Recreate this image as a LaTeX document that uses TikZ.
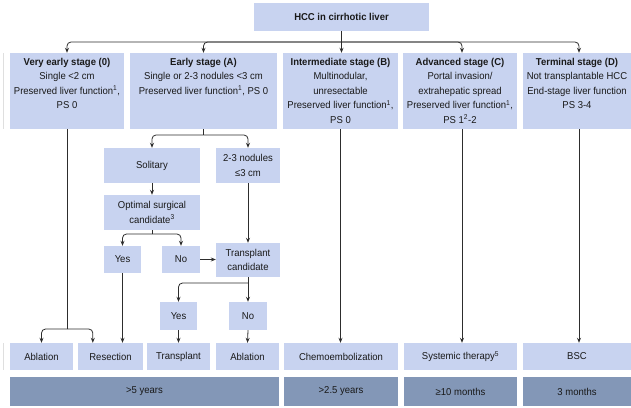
\documentclass[tikz,border=0pt]{standalone}
\usepackage{fontspec}
\setmainfont{Liberation Sans}[FakeStretch=0.95]
\usetikzlibrary{arrows.meta}
\definecolor{boxc}{RGB}{200,211,240}
\definecolor{survc}{RGB}{131,151,183}
\definecolor{linec}{RGB}{45,45,45}
\definecolor{txtc}{RGB}{25,25,25}
\newcommand\fs{\fontsize{10}{14.5}\selectfont}
\tikzset{
  box/.style={fill=boxc, draw=none, inner sep=0pt, align=center, font=\fs, text=txtc},
  surv/.style={fill=survc, draw=none, inner sep=0pt, align=center, font=\fs, text=txtc, minimum height=29pt},
  arr/.style={draw=linec, line width=0.8pt, -{Stealth[length=5pt,width=4pt]}},
  ln/.style={draw=linec, line width=0.8pt},
}
\newcommand\stg[2]{\parbox[c][70pt][t]{#1pt}{\vspace*{2pt}\centering #2}}
\begin{document}
\begin{tikzpicture}[x=1pt,y=-1pt]
\useasboundingbox (0,0) rectangle (631,407);
% faint left edge lines
\draw[gray!25, line width=0.6pt] (3,53) -- (3,129);
\draw[gray!25, line width=0.6pt] (3,343) -- (3,370);
% top
\node[box, minimum width=175pt, minimum height=28pt, font=\fs\bfseries] (top) at (341.5,17) {HCC in cirrhotic liver};
% stages
\node[box, minimum width=114pt, minimum height=76pt] (s0) at (67,91) {\stg{114}{\textbf{Very early stage (0)}\\ Single <2 cm\\ Preserved liver function\textsuperscript{1},\\ PS 0}};
\node[box, minimum width=147pt, minimum height=76pt] (sA) at (203.5,91) {\stg{147}{\textbf{Early stage (A)}\\ Single or 2-3 nodules <3 cm\\ Preserved liver function\textsuperscript{1}, PS 0}};
\node[box, minimum width=115pt, minimum height=76pt] (sB) at (340.5,91) {\stg{115}{\textbf{Intermediate stage (B)}\\ Multinodular,\\ unresectable\\ Preserved liver function\textsuperscript{1},\\ PS 0}};
\node[box, minimum width=114pt, minimum height=76pt] (sC) at (460,91) {\stg{114}{\textbf{Advanced stage (C)}\\ Portal invasion/\\ extrahepatic spread\\ Preserved liver function\textsuperscript{1},\\ PS 1\textsuperscript{2}-2}};
\node[box, minimum width=108pt, minimum height=76pt] (sD) at (577,91) {\stg{108}{\textbf{Terminal stage (D)}\\ Not transplantable HCC\\ End-stage liver function\\ PS 3-4}};
% early branch
\node[box, minimum width=96pt, minimum height=35pt] (sol) at (152,165.5) {Solitary};
\node[box, minimum width=64pt, minimum height=35pt] (nod) at (248,165.5) {2-3 nodules\\ ≤3 cm};
\node[box, minimum width=96pt, minimum height=35pt] (opt) at (152,212.5) {Optimal surgical\\ candidate\textsuperscript{3}};
\node[box, minimum width=37pt, minimum height=27pt] (yes1) at (122.5,259.5) {Yes};
\node[box, minimum width=38pt, minimum height=27pt] (no1) at (181,259.5) {No};
\node[box, minimum width=64pt, minimum height=34pt] (tc) at (248,260) {Transplant\\ candidate};
\node[box, minimum width=37pt, minimum height=28pt] (yes2) at (178.5,316) {Yes};
\node[box, minimum width=38pt, minimum height=28pt] (no2) at (248,316) {No};
% treatments
\node[box, minimum width=63pt, minimum height=27pt] (abl1) at (41.5,356.5) {Ablation};
\node[box, minimum width=65pt, minimum height=27pt] (res) at (110.5,356.5) {Resection};
\node[box, minimum width=63pt, minimum height=27pt] (trans) at (178.5,356.5) {Transplant};
\node[box, minimum width=63pt, minimum height=27pt] (abl2) at (247.5,356.5) {Ablation};
\node[box, minimum width=114pt, minimum height=27pt] (chemo) at (341,356.5) {Chemoembolization};
\node[box, minimum width=113pt, minimum height=27pt] (sys) at (460.5,356.5) {Systemic therapy\textsuperscript{5}};
\node[box, minimum width=108pt, minimum height=27pt] (bsc) at (577,356.5) {BSC};
% survival
\node[surv, minimum width=269pt] (sv1) at (144.5,391.5) {>5 years};
\node[surv, minimum width=114pt] (sv2) at (341,391.5) {>2.5 years};
\node[surv, minimum width=113pt] (sv3) at (460.5,391.5) {≥10 months};
\node[surv, minimum width=108pt] (sv4) at (577,391.5) {3 months};
% connectors
\coordinate (bar) at (341.5,42);
\draw[ln] (top.south) -- (bar);
\draw[arr] (bar) -- (bar |- sB.north);
\draw[arr, rounded corners=4pt] (bar) -| (s0.north);
\draw[arr, rounded corners=4pt] (bar) -| (sA.north);
\draw[arr, rounded corners=4pt] (bar) -| ([xshift=2pt]sC.north);
\draw[arr, rounded corners=4pt] (bar) -| ([xshift=2pt]sD.north);
\coordinate (jA) at (203.5,135);
\draw[ln] (sA.south) -- (jA);
\draw[arr, rounded corners=4pt] (jA) -| (sol.north);
\draw[arr, rounded corners=4pt] (jA) -| (nod.north);
\draw[arr] (sol.south) -- (opt.north);
\coordinate (jO) at (152,234);
\draw[ln] (opt.south) -- (jO);
\draw[arr, rounded corners=4pt] (jO) -| (yes1.north);
\draw[arr, rounded corners=4pt] (jO) -| (no1.north);
\draw[arr] (no1.east) -- (tc.west |- no1.east);
\draw[arr] (nod.south) -- (tc.north);
\coordinate (jT) at (248,283);
\draw[ln] (tc.south) -- (jT);
\draw[arr, rounded corners=4pt] (jT) -| (yes2.north);
\draw[arr] (jT) -- (no2.north);
\draw[arr] (yes2.south) -- (trans.north);
\draw[arr] (no2.south) -- (abl2.north);
\coordinate (j0) at (67,329);
\draw[ln] (s0.south) -- (j0);
\draw[arr, rounded corners=4pt] (j0) -| (abl1.north);
\draw[arr, rounded corners=4pt] (j0) -| ([xshift=15pt]res.north west);
\draw[arr] (yes1.south) -- (yes1.south |- res.north);
\draw[arr] (sB.south) -- (sB.south |- chemo.north);
\draw[arr] ([xshift=2pt]sC.south) -- ([xshift=2pt]sys.north -| sC.south);
\draw[arr] ([xshift=2pt]sD.south) -- ([xshift=2pt]bsc.north);
\end{tikzpicture}
\end{document}
